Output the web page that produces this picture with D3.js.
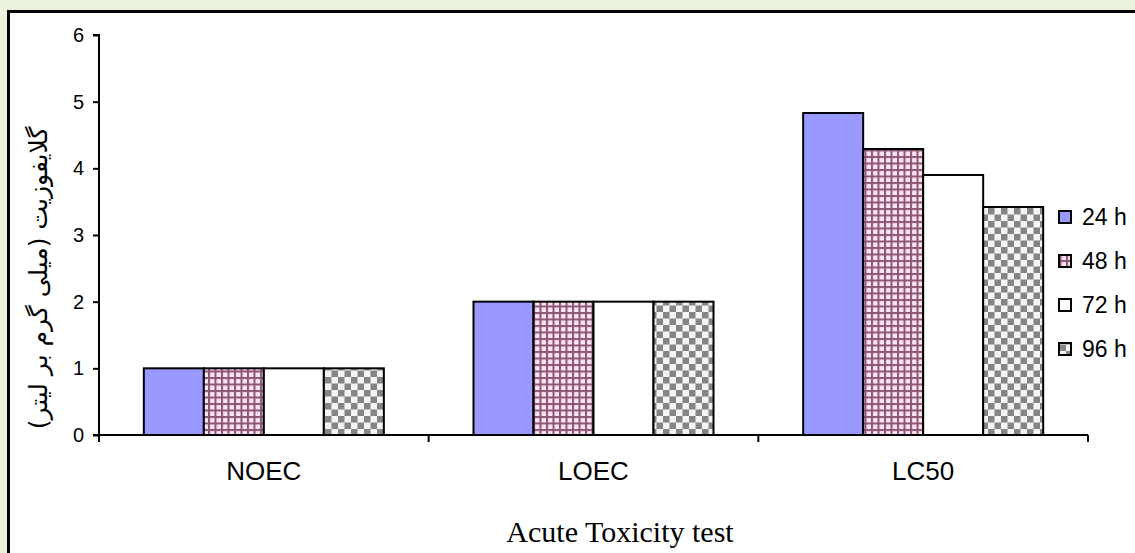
<!DOCTYPE html>
<html><head><meta charset="utf-8">
<script src="https://cdn.jsdelivr.net/npm/d3@7"></script>
<style>html,body{margin:0;padding:0;background:#eaf1dd;}svg{display:block;}</style>
</head><body>
<svg id="c" width="1135" height="553"></svg>
<script>
const categories = ["NOEC", "LOEC", "LC50"];
const seriesNames = ["24 h", "48 h", "72 h", "96 h"];
const v24 = [1, 2, 4.83];
const v48 = [1, 2, 4.29];
const v72 = [1, 2, 3.9];
const v96 = [1, 2, 3.42];
const yTicks = [0, 1, 2, 3, 4, 5, 6];
const yTitle = "گلایفوزیت (میلی گرم بر لیتر)";
const xTitle = "Acute Toxicity test";
const values = [v24, v48, v72, v96];

const svg = d3.select("#c");
svg.append("rect").attr("x", 0).attr("y", 0).attr("width", 1135).attr("height", 553).attr("fill", "#eaf1dd");
svg.append("rect").attr("x", 8.5).attr("y", 11.5).attr("width", 1300).attr("height", 700)
  .attr("fill", "#fff").attr("stroke", "#000").attr("stroke-width", 3);

const defs = svg.append("defs");
const pg = defs.append("pattern").attr("id", "grid").attr("patternUnits", "userSpaceOnUse")
  .attr("width", 6.5).attr("height", 6.5);
pg.append("rect").attr("width", 6.5).attr("height", 6.5).attr("fill", "#fde4f4");
pg.append("rect").attr("x", 0).attr("y", 0).attr("width", 6.5).attr("height", 2).attr("fill", "#8c5574");
pg.append("rect").attr("x", 0).attr("y", 0).attr("width", 2).attr("height", 6.5).attr("fill", "#8c5574");
const pc = defs.append("pattern").attr("id", "check").attr("patternUnits", "userSpaceOnUse")
  .attr("width", 13).attr("height", 13);
pc.append("rect").attr("width", 13).attr("height", 13).attr("fill", "#f4f4f4");
pc.append("rect").attr("x", 0).attr("y", 0).attr("width", 6.5).attr("height", 6.5).attr("fill", "#858585");
pc.append("rect").attr("x", 6.5).attr("y", 6.5).attr("width", 6.5).attr("height", 6.5).attr("fill", "#858585");

const fills = ["#9999ff", "url(#grid)", "#ffffff", "url(#check)"];

const x0 = d3.scaleBand().domain(categories).range([99, 1088]).paddingInner(0).paddingOuter(0);
const x1 = d3.scaleBand().domain(seriesNames).range([0, x0.bandwidth()]).paddingInner(0).paddingOuter(0.747);
const y = d3.scaleLinear().domain([0, 6]).range([435, 35]);

// bars
categories.forEach((c, ci) => {
  seriesNames.forEach((s, si) => {
    svg.append("rect")
      .attr("x", x0(c) + x1(s))
      .attr("y", y(values[si][ci]))
      .attr("width", x1.bandwidth())
      .attr("height", y(0) - y(values[si][ci]))
      .attr("fill", fills[si])
      .attr("stroke", "#000").attr("stroke-width", 2);
  });
});

// y axis
const yAxis = svg.append("g").attr("transform", "translate(99,0)")
  .call(d3.axisLeft(y).tickValues(yTicks).tickSize(6).tickPadding(9).tickFormat(d3.format("d")));
yAxis.select(".domain").attr("stroke", "#000").attr("stroke-width", 2).attr("d", "M-6,35H0V435H-6");
yAxis.selectAll(".tick line").attr("stroke", "#000").attr("stroke-width", 2);
yAxis.selectAll(".tick text").attr("font-family", "Arial, 'Liberation Sans', sans-serif").attr("font-size", 20).attr("fill", "#000");

// x axis
const xAxis = svg.append("g").attr("transform", "translate(0,435)")
  .call(d3.axisBottom(x0).tickSize(0).tickPadding(27));
xAxis.select(".domain").attr("stroke", "#000").attr("stroke-width", 2).attr("d", "M99,0H1088");
xAxis.selectAll(".tick text").attr("font-family", "Arial, 'Liberation Sans', sans-serif").attr("font-size", 26).attr("fill", "#000");
const bounds = categories.map(c => x0(c)).concat([x0(categories[categories.length - 1]) + x0.bandwidth()]);
xAxis.selectAll("line.sep").data(bounds).enter().append("line").attr("class", "sep")
  .attr("x1", d => d).attr("x2", d => d).attr("y1", 0).attr("y2", 7)
  .attr("stroke", "#000").attr("stroke-width", 2);

// titles
svg.append("text").attr("x", 620).attr("y", 542).attr("text-anchor", "middle")
  .attr("font-family", "'Liberation Serif', 'Times New Roman', serif").attr("font-size", 30).attr("fill", "#000")
  .text(xTitle);
svg.append("text").attr("transform", "translate(47,278) rotate(-90)").attr("text-anchor", "middle")
  .attr("font-family", "'DejaVu Sans', sans-serif").attr("font-size", 25).attr("fill", "#000")
  .attr("direction", "rtl")
  .text(yTitle);

// legend
const leg = svg.append("g");
seriesNames.forEach((s, i) => {
  const cy = 217 + i * 44;
  leg.append("rect").attr("x", 1059).attr("y", cy - 6).attr("width", 12).attr("height", 12)
    .attr("fill", fills[i]).attr("stroke", "#000").attr("stroke-width", 2);
  leg.append("text").attr("x", 1082).attr("y", cy + 8).attr("font-family", "Arial, 'Liberation Sans', sans-serif")
    .attr("font-size", 23).attr("fill", "#000").text(s);
});
</script>
</body></html>
